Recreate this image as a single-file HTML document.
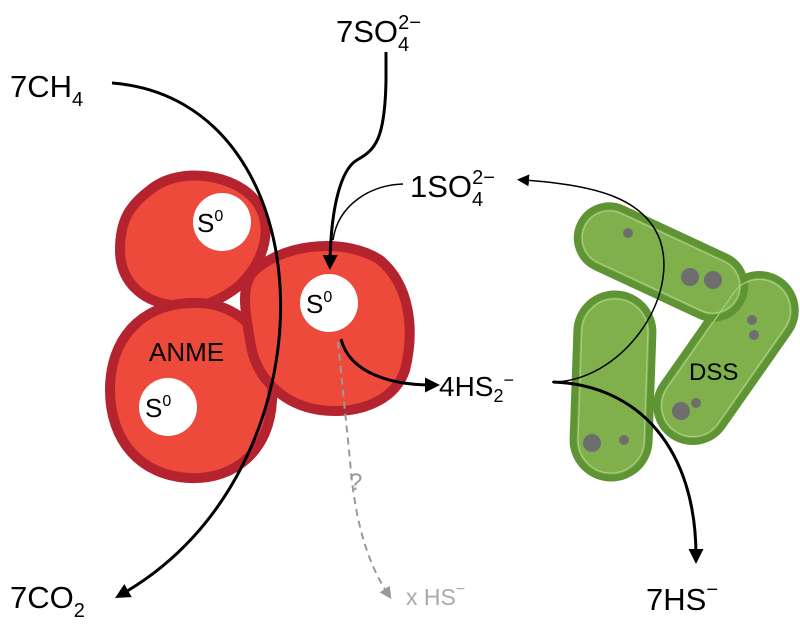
<!DOCTYPE html>
<html><head><style>
html,body{margin:0;padding:0;background:#fff;}
svg{display:block;font-family:"Liberation Sans",Arial,sans-serif;}
</style></head><body>
<svg width="800" height="625" viewBox="0 0 800 625" xmlns="http://www.w3.org/2000/svg">
<defs>
<marker id="ah" markerWidth="12" markerHeight="12" refX="6" refY="6" orient="auto" markerUnits="userSpaceOnUse" viewBox="0 0 12 12"><path d="M0,0 L12,6 L0,12 Z" fill="#000"/></marker>
<marker id="ah2" markerWidth="15" markerHeight="15" refX="7" refY="7.5" orient="auto" markerUnits="userSpaceOnUse" viewBox="0 0 15 15"><path d="M0,0 L15,7.5 L0,15 Z" fill="#000"/></marker>
<marker id="ahg" markerWidth="12" markerHeight="12" refX="6" refY="6" orient="auto" markerUnits="userSpaceOnUse" viewBox="0 0 12 12"><path d="M0,0 L12,6 L0,12 Z" fill="#999"/></marker>
</defs>
<!-- bacteria -->
<g fill="#7fb04c" stroke="#5f9434" stroke-width="7">
<rect x="575" y="294" width="76" height="184" rx="38" transform="rotate(2 613 386)"/>
<rect x="690" y="264" width="72" height="188" rx="36" transform="rotate(35 726 358)"/>
<rect x="572" y="230" width="178" height="64" rx="32" transform="rotate(25 661 262)"/>
</g>
<g fill="none" stroke="#a9cd80" stroke-width="1.2">
<rect x="580" y="299" width="66" height="174" rx="33" transform="rotate(2 613 386)"/>
<rect x="695" y="269" width="62" height="178" rx="31" transform="rotate(35 726 358)"/>
<rect x="577" y="235" width="168" height="54" rx="27" transform="rotate(25 661 262)"/>
</g>
<g fill="#6e6e6e">
<circle cx="628" cy="233" r="5"/><circle cx="690" cy="277" r="9"/><circle cx="713" cy="280" r="9"/>
<circle cx="752" cy="320" r="5"/><circle cx="754" cy="335" r="5"/>
<circle cx="681" cy="411" r="9"/><circle cx="696" cy="403" r="5"/>
<circle cx="592" cy="443" r="9"/><circle cx="624" cy="440" r="5"/>
</g>
<text x="689" y="380" font-size="24">DSS</text>
<!-- ANME cells -->
<g fill="#ee4a3b" stroke="#b5232f" stroke-width="10">
<path d="M150,190 C180,165 235,175 255,200 C275,225 265,260 240,285 C215,305 195,310 170,305 C140,300 120,280 120,250 C120,220 130,205 150,190 Z"/>
<path d="M190,303 C250,300 275,350 272,400 C270,450 235,480 190,478 C140,476 110,440 110,390 C110,340 140,305 190,303 Z"/>
<path d="M255,270 C290,240 350,240 380,260 C410,285 415,330 405,370 C395,400 360,415 320,410 C285,405 255,380 250,340 C245,310 240,285 255,270 Z"/>
</g>
<g fill="#fff">
<circle cx="222" cy="222" r="29"/><circle cx="329" cy="303" r="29"/><circle cx="168" cy="407" r="29"/>
</g>
<g font-size="26"><text x="197" y="232">S<tspan font-size="16" dy="-11">0</tspan></text>
<text x="306" y="313">S<tspan font-size="16" dy="-11">0</tspan></text>
<text x="145" y="417">S<tspan font-size="16" dy="-11">0</tspan></text>
<text x="149" y="361">ANME</text></g>
<!-- arrows -->
<g fill="none" stroke="#000">
<path d="M112,83 C330,100 340,470 122,594" stroke-width="3" marker-end="url(#ah2)"/>
<path d="M386,52 L386,80 C385,140 375,150 357,160 C340,170 331,210 330,262" stroke-width="3" marker-end="url(#ah2)"/>
<path d="M403,184 C370,185 338,205 333,240" stroke-width="1.5"/>
<path d="M341,339 C350,375 395,385 432,385" stroke-width="3" marker-end="url(#ah2)"/>
<path d="M552,382 C620,382 680,300 660,240 C645,200 600,185 523,180" stroke-width="1.5" marker-end="url(#ah)"/>
<path d="M553,382 C640,385 696,450 696,556" stroke-width="3" marker-end="url(#ah2)"/>
</g>
<path d="M338,342 L350,460 C355,530 372,570 388,594" fill="none" stroke="#999" stroke-width="2" stroke-dasharray="7,5" marker-end="url(#ahg)"/>
<!-- labels -->
<g font-size="31">
<text x="10" y="97">7CH<tspan font-size="20" dy="9">4</tspan></text>
<text x="10" y="608">7CO<tspan font-size="20" dy="9">2</tspan></text>
<text x="646" y="610">7HS<tspan font-size="20" dy="-14">−</tspan></text>
<text x="336" y="42">7SO<tspan font-size="20" dy="9">4</tspan><tspan font-size="20" dx="-11" dy="-22">2−</tspan></text>
<text x="410" y="197">1SO<tspan font-size="20" dy="9">4</tspan><tspan font-size="20" dx="-11" dy="-22">2−</tspan></text>
</g>
<text x="439" y="396" font-size="28">4HS<tspan font-size="18" dy="6">2</tspan><tspan font-size="18" dy="-16">−</tspan></text>
<text x="349" y="490" font-size="24" fill="#999">?</text>
<text x="406" y="605" font-size="23" fill="#aaa">x HS<tspan font-size="16" dy="-11">−</tspan></text>
</svg>
</body></html>
